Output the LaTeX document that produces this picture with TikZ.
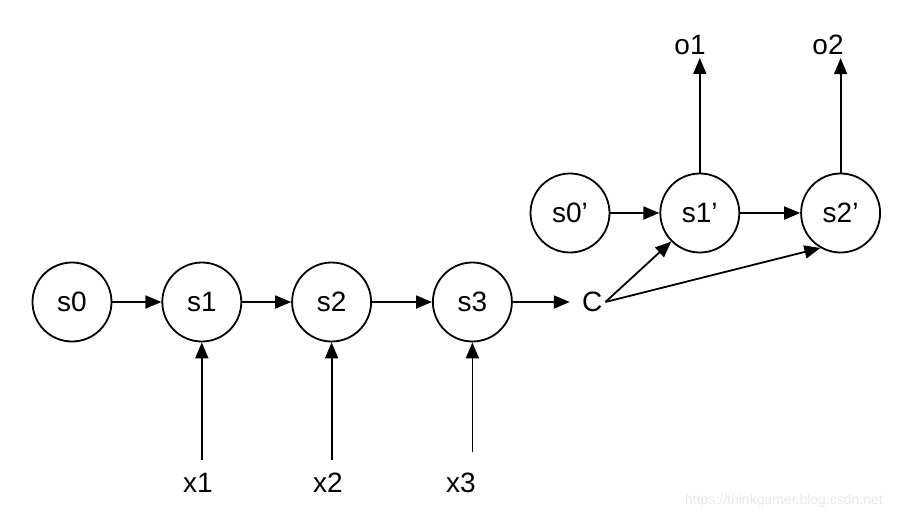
\documentclass[tikz,border=0pt]{standalone}
\usepackage{fontspec}
\setmainfont{Liberation Sans}
\usepackage{tikz}
\usetikzlibrary{arrows.meta,positioning}
\definecolor{wmark}{RGB}{232,232,232}

\begin{document}
\begin{tikzpicture}[
  x=1pt, y=-1pt,
  state/.style={circle, draw, line width=1.8pt, minimum size=79pt, inner sep=0pt,
                font=\fontsize{28}{31}\selectfont},
  lbl/.style={inner sep=3pt, font=\fontsize{28}{31}\selectfont},
  inp/.style={lbl, inner ysep=13pt},
  arr/.style={-{Triangle[length=16pt,width=13pt]}, line width=1.8pt},
  node distance=49pt
]
\useasboundingbox (0,0) rectangle (906,520);

\node[state] (s0) at (72,302) {s0};
\node[state, right=of s0] (s1) {s1};
\node[state, right=of s1] (s2) {s2};
\node[state, right=60pt of s2] (s3) {s3};
\node[lbl, right=66pt of s3] (C) {C};

\node[state] (s0p) at (570,213) {s0’};
\node[state, right=of s0p] (s1p) {s1’};
\node[state, right=60pt of s1p] (s2p) {s2’};

\node[lbl] (o1) at (690,45) {o1};
\node[lbl] (o2) at (828,45) {o2};

\node[inp] (x1) at (198,483) {x1};
\node[inp] (x2) at (328,483) {x2};
\node[inp] (x3) at (461,483) {x3};

\node[font=\fontsize{14}{16}\selectfont, text=wmark] (wm) at (784,501)
  {https://thinkgamer.blog.csdn.net};

\draw[arr] (s0) -- (s1);
\draw[arr] (s1) -- (s2);
\draw[arr] (s2) -- (s3);
\draw[arr, shorten >=9pt] (s3) -- (C);
\draw[arr] (s0p) -- (s1p);
\draw[arr] (s1p) -- (s2p);
\draw[arr] (C.east) -- (s1p.225);
\draw[arr] (C.east) -- (s2p.240);
\draw[arr] (s1p.north) -- (s1p.north |- o1.south);
\draw[arr] (s2p.north) -- (s2p.north |- o2.south);
\draw[arr] (s1.south |- x1.north) -- (s1.south);
\draw[arr] (s2.south |- x2.north) -- (s2.south);
\draw[arr, shorten <=8pt] (s3.south |- x3.north) -- (s3.south);
\end{tikzpicture}
\end{document}
